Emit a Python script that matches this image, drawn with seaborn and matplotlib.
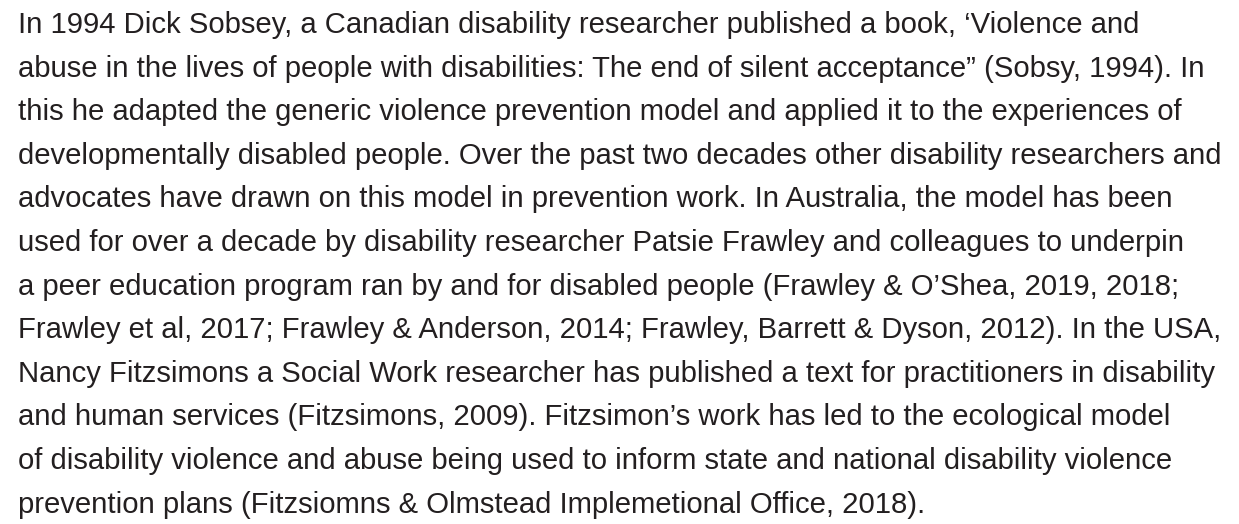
import seaborn as sns
import matplotlib.pyplot as plt

# Linhas do parágrafo, na ordem em que aparecem
linhas = [
    "In 1994 Dick Sobsey, a Canadian disability researcher published a book, \u2018Violence and",
    "abuse in the lives of people with disabilities: The end of silent acceptance\u201d (Sobsy, 1994). In",
    "this he adapted the generic violence prevention model and applied it to the experiences of",
    "developmentally disabled people. Over the past two decades other disability researchers and",
    "advocates have drawn on this model in prevention work. In Australia, the model has been",
    "used for over a decade by disability researcher Patsie Frawley and colleagues to underpin",
    "a peer education program ran by and for disabled people (Frawley & O\u2019Shea, 2019, 2018;",
    "Frawley et al, 2017; Frawley & Anderson, 2014; Frawley, Barrett & Dyson, 2012). In the USA,",
    "Nancy Fitzsimons a Social Work researcher has published a text for practitioners in disability",
    "and human services (Fitzsimons, 2009). Fitzsimon\u2019s work has led to the ecological model",
    "of disability violence and abuse being used to inform state and national disability violence",
    "prevention plans (Fitzsiomns & Olmstead Implemetional Office, 2018).",
]

sns.set_theme(style='white')
plt.rcParams['font.family'] = ['Liberation Sans', 'DejaVu Sans']

fig = plt.figure(figsize=(12.39, 5.24), dpi=100)
ax = fig.add_axes([0, 0, 1, 1])
ax.set_xlim(0, 1239)
ax.set_ylim(524, 0)
ax.axis('off')

x0 = 17.5
y0 = 33
passo = 43.6
tamanho = 29.3 * 72 / 100  # px -> pt

for i, linha in enumerate(linhas):
    ax.text(x0, y0 + i * passo, linha, fontsize=tamanho, color='#231f20',
            va='baseline', ha='left')

plt.savefig('out.png', dpi=100)
plt.close()
